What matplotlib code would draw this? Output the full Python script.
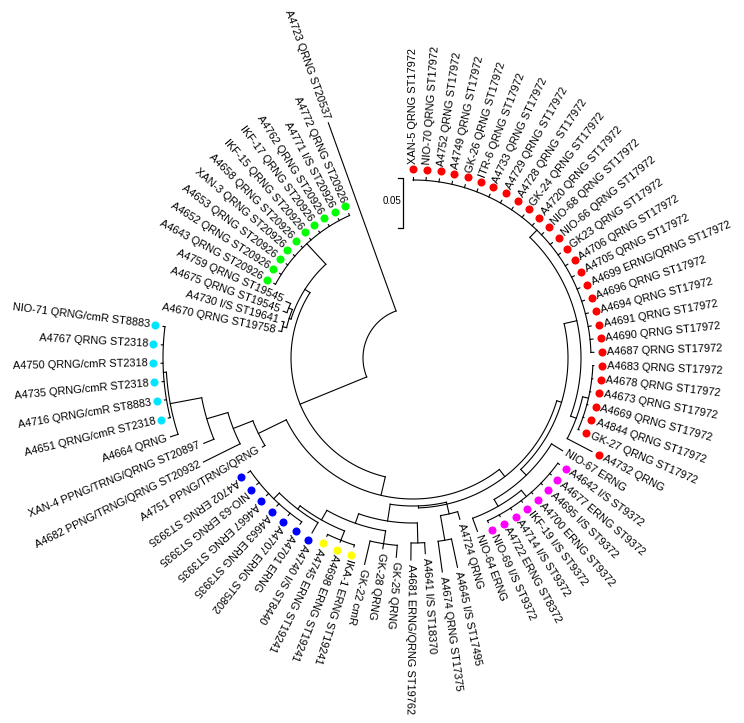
import numpy as np
import matplotlib.pyplot as plt

plt.rcParams['font.family'] = ['Liberation Sans', 'DejaVu Sans']

# tip labels, grouped by clade, listed clockwise
red_tips = ["XAN-5 QRNG ST17972", "NIO-70 QRNG ST17972", "A4752 QRNG ST17972",
            "A4749 QRNG ST17972", "GK-26 QRNG ST17972", "ITR-6 QRNG ST17972",
            "A4733 QRNG ST17972", "A4729 QRNG ST17972", "A4728 QRNG ST17972",
            "GK-24 QRNG ST17972", "A4720 QRNG ST17972", "NIO-68 QRNG ST17972",
            "NIO-66 QRNG ST17972", "GK23 QRNG ST17972", "A4706 QRNG ST17972",
            "A4705 QRNG ST17972", "A4699 ERNG/QRNG ST17972", "A4696 QRNG ST17972",
            "A4694 QRNG ST17972", "A4691 QRNG ST17972", "A4690 QRNG ST17972",
            "A4687 QRNG ST17972", "A4683 QRNG ST17972", "A4678 QRNG ST17972",
            "A4673 QRNG ST17972", "A4669 QRNG ST17972", "A4844 QRNG ST17972",
            "GK-27 QRNG ST17972"]
magenta_tips = ["A4642 I/S ST9372", "A4677 ERNG ST9372", "A4695 I/S ST9372",
                "A4700 ERNG ST9372", "IKF-19 I/S ST9372", "A4714 I/S ST9372",
                "A4722 ERNG ST8372", "NIO-69 I/S ST9372"]
yellow_tips = ["IKA-1 ERNG ST19241", "A4698 ERNG ST19241", "A4745 ERNG ST19241"]
blue_tips = ["A4701 ERNG", "A4707 ERNG ST5802", "A4663 ERNG ST3935",
             "A4667 ERNG ST3935", "NIO-63 ERNG ST3935", "A4702 ERNG ST3935"]
cyan_tips = ["A4651 QRNG/cmR ST2318", "A4716 QRNG/cmR ST8883", "A4735 QRNG/cmR ST2318",
             "A4750 QRNG/cmR ST2318", "A4767 QRNG ST2318", "NIO-71 QRNG/cmR ST8883"]
green_tips = ["A4643 QRNG ST20926", "A4652 QRNG ST20926", "A4653 QRNG ST20926",
              "XAN-3 QRNG ST20926", "A4658 QRNG ST20926", "IKF-15 QRNG ST20926",
              "IKF-17 QRNG ST20926", "A4762 QRNG ST20926", "A4771 I/S ST20926",
              "A4772 QRNG ST20926"]

RED, MAG, YEL, BLU, CYA, GRN = "#ff0000", "#ff00ff", "#ffff00", "#0000ff", "#00e5ff", "#00ff00"


def tips(names, r, color=None):
    return [(n, r, color) for n in names]


# tree: internal node = [radius, children...], leaf = (label, radius, dot colour)
red = [168, [178] + tips(red_tips[:22], 181, RED),
       [174, [180] + tips(red_tips[22:], 181, RED), ("A4732 QRNG", 202, RED)]]
magenta = [163, ("NIO-67 ERNG", 176, None),
           [171, [179] + tips(magenta_tips, 181, MAG), ("NIO-64 ERNG", 185, None)]]
clade_e = [155, red, magenta]

d1 = [160, ("A4724 QRNG", 168, None),
      [185, ("A4645 I/S ST17495", 214, None), ("A4674 QRNG ST17375", 216, None)]]
d4 = [185, ("A4641 I/S ST18370", 196, None), ("A4681 ERNG/QRNG ST19762", 202, None)]
d6 = [188, ("GK-25 QRNG", 200, None), ("GK-28 QRNG", 193, None), ("GK-22 cmR", 212, None)]
yellow = [196] + tips(yellow_tips, 198, YEL)
blue = [190, ("A4740 I/S ST8440", 202, BLU), [198] + tips(blue_tips, 201, BLU)]
clade_d = [148, d1, [165, d4, [175, d6, [186, yellow, blue]]]]
clade_c = [150, clade_e, clade_d]

cyan = [250] + tips(cyan_tips, 252, CYA)
clade_s = [247, ("A4664 QRNG", 255, None), cyan]
clade_r = [215, ("XAN-4 PPNG/TRNG/QRNG ST20897", 226, None), clade_s]
clade_q = [193, ("A4682 PPNG/TRNG/QRNG ST20932", 234, None), clade_r]
clade_p = [172, ("A4751 PPNG/TRNG/QRNG", 175, None), clade_q]
clade_b = [141, clade_c, clade_p]

clade_h = [130, [134, ("A4670 QRNG ST19758", 137, None), ("A4730 I/S ST19641", 136, None)],
           [134, ("A4675 QRNG ST19545", 138, None), ("A4759 QRNG ST19545", 139, None)]]
green = [156] + tips(green_tips, 158, GRN)
clade_g = [128, clade_h, green]
clade_a = [122, clade_b, clade_g]
tree = [50, clade_a, ("A4723 QRNG ST20537", 250, None)]

CX, CY = 413, 358
STEP = 4.2

fig = plt.figure(figsize=(7.44, 7.23), dpi=100)
ax = fig.add_axes([0, 0, 1, 1])
ax.set_xlim(0, 744)
ax.set_ylim(723, 0)
ax.axis("off")


def xy(r, a):
    t = np.radians(a)
    return CX + r * np.cos(t), CY - r * np.sin(t)


leaf_list = []


def draw(node):
    if isinstance(node, tuple):
        a = 90 - STEP * len(leaf_list)
        leaf_list.append((node, a))
        return a
    r = node[0]
    angs = [draw(ch) for ch in node[1:]]
    arc = np.linspace(angs[0], angs[-1], 60)
    ax.plot(*xy(r, arc), color="black", lw=0.8)
    for ch, a in zip(node[1:], angs):
        rc = ch[1] if isinstance(ch, tuple) else ch[0]
        x, y = xy(np.array([r, rc]), a)
        ax.plot(x, y, color="black", lw=0.8)
    return (angs[0] + angs[-1]) / 2


draw(tree)

for (label, r, color), a in leaf_list:
    if color:
        ax.plot(*xy(r + 8, a), "o", ms=5.8, color=color, mec="none")
        rt = r + 13
    else:
        rt = r + 4
    x, y = xy(rt, a)
    if -270 < a < -147:
        ax.text(x, y, label, rotation=a + 180, ha="right", va="center",
                rotation_mode="anchor", fontsize=7.9)
    else:
        ax.text(x, y, label, rotation=a, ha="left", va="center",
                rotation_mode="anchor", fontsize=7.9)

# scale bar
ax.plot([398, 403, 403, 398], [178, 178, 228, 228], color="black", lw=0.9)
ax.text(401, 201, "0.05", ha="right", va="center", fontsize=7)

fig.savefig("out.png", dpi=100)
